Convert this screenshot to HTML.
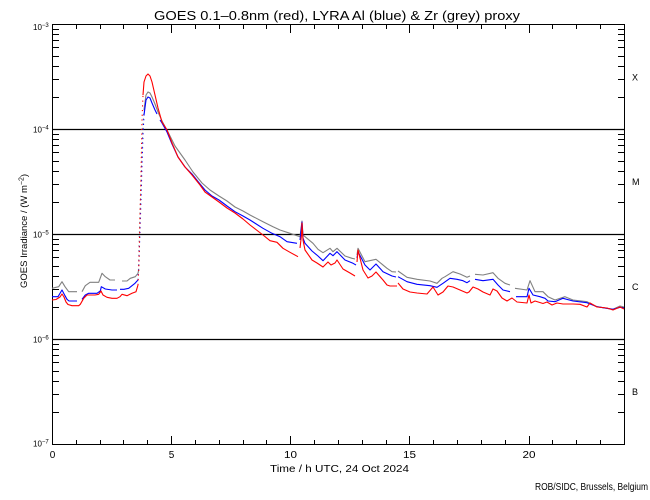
<!DOCTYPE html>
<html><head><meta charset="utf-8"><style>
html,body{margin:0;padding:0;background:#fff;}
svg{display:block;}
text{font-family:"Liberation Sans",sans-serif;fill:#000;}
</style></head><body>
<svg width="650" height="500" viewBox="0 0 650 500" xmlns="http://www.w3.org/2000/svg">
<rect width="650" height="500" fill="#fff"/>
<!-- title -->
<text x="154" y="20" font-size="13" textLength="366" lengthAdjust="spacingAndGlyphs">GOES 0.1–0.8nm (red), LYRA Al (blue) &amp; Zr (grey) proxy</text>

<!-- decade lines -->
<path d="M52 129.5H624M52 234.5H624M52 339.5H624" stroke="#000" stroke-width="1.3" fill="none"/>

<!-- axes box -->
<rect x="52.5" y="24.5" width="572" height="420" fill="none" stroke="#000" stroke-width="1"/>

<!-- left minor ticks -->
<path stroke="#000" stroke-width="1" fill="none" d="
M52 97.5h7M52 79.5h7M52 66.5h7M52 56.5h7M52 47.5h7M52 40.5h7M52 34.5h7M52 29.5h7
M52 202.5h7M52 184.5h7M52 171.5h7M52 161.5h7M52 152.5h7M52 145.5h7M52 139.5h7M52 134.5h7
M52 307.5h7M52 289.5h7M52 276.5h7M52 266.5h7M52 257.5h7M52 250.5h7M52 244.5h7M52 239.5h7
M52 412.5h7M52 394.5h7M52 381.5h7M52 371.5h7M52 362.5h7M52 355.5h7M52 349.5h7M52 344.5h7
"/>
<!-- right minor ticks -->
<path stroke="#000" stroke-width="1" fill="none" d="
M625 97.5h-7M625 79.5h-7M625 66.5h-7M625 56.5h-7M625 47.5h-7M625 40.5h-7M625 34.5h-7M625 29.5h-7
M625 202.5h-7M625 184.5h-7M625 171.5h-7M625 161.5h-7M625 152.5h-7M625 145.5h-7M625 139.5h-7M625 134.5h-7
M625 307.5h-7M625 289.5h-7M625 276.5h-7M625 266.5h-7M625 257.5h-7M625 250.5h-7M625 244.5h-7M625 239.5h-7
M625 412.5h-7M625 394.5h-7M625 381.5h-7M625 371.5h-7M625 362.5h-7M625 355.5h-7M625 349.5h-7M625 344.5h-7
"/>
<!-- bottom ticks -->
<path stroke="#000" stroke-width="1" fill="none" d="
M76.5 444v-4M100.5 444v-4M123.5 444v-4M147.5 444v-4M171.5 444v-8M195.5 444v-4M219.5 444v-4M243.5 444v-4M266.5 444v-4M290.5 444v-8
M314.5 444v-4M338.5 444v-4M362.5 444v-4M386.5 444v-4M409.5 444v-8M433.5 444v-4M457.5 444v-4M481.5 444v-4M505.5 444v-4M529.5 444v-8
M552.5 444v-4M576.5 444v-4M600.5 444v-4
"/>
<!-- top ticks -->
<path stroke="#000" stroke-width="1" fill="none" d="
M76.5 25v4M100.5 25v4M123.5 25v4M147.5 25v4M171.5 25v8M195.5 25v4M219.5 25v4M243.5 25v4M266.5 25v4M290.5 25v8
M314.5 25v4M338.5 25v4M362.5 25v4M386.5 25v4M409.5 25v8M433.5 25v4M457.5 25v4M481.5 25v4M505.5 25v4M529.5 25v8
M552.5 25v4M576.5 25v4M600.5 25v4
"/>

<!-- y tick labels -->
<g font-size="8">
<text x="33" y="30">10<tspan font-size="6" dy="-3">−3</tspan></text>
<text x="33" y="132.5">10<tspan font-size="6" dy="-3">−4</tspan></text>
<text x="33" y="237.5">10<tspan font-size="6" dy="-3">−5</tspan></text>
<text x="33" y="342.5">10<tspan font-size="6" dy="-3">−6</tspan></text>
<text x="33" y="446.5">10<tspan font-size="6" dy="-3">−7</tspan></text>
</g>

<!-- x tick labels -->
<g font-size="10" text-anchor="middle">
<text x="52.5" y="458">0</text>
<text x="171.5" y="458">5</text>
<text x="290.5" y="458" textLength="13" lengthAdjust="spacingAndGlyphs">10</text>
<text x="409.5" y="458" textLength="13" lengthAdjust="spacingAndGlyphs">15</text>
<text x="529" y="458" textLength="13" lengthAdjust="spacingAndGlyphs">20</text>
</g>

<!-- x label -->
<text x="270" y="472" font-size="10.5" textLength="139" lengthAdjust="spacingAndGlyphs">Time / h UTC, 24 Oct 2024</text>
<!-- credit -->
<text x="535" y="490" font-size="10.5" textLength="113" lengthAdjust="spacingAndGlyphs">ROB/SIDC, Brussels, Belgium</text>

<!-- y label -->
<g transform="translate(27,288) rotate(-90)">
<text x="0" y="0" font-size="9.5">GOES Irradiance / (W m<tspan font-size="7" dy="-3.5">−2</tspan><tspan dy="3.5">)</tspan></text>
</g>

<!-- class labels -->
<g font-size="9">
<text x="632" y="80.5">X</text>
<text x="632" y="185">M</text>
<text x="632" y="290">C</text>
<text x="632" y="395">B</text>
</g>

<!-- series -->
<g fill="none" stroke-width="1.1" stroke-linejoin="round">
<g stroke="#808080">
<polyline points="52,288.3 58.7,286.7 62,281.7 65,286.7 68.7,291.7 77,291.7"/>
<polyline points="82,291.7 85.3,285.7 90,282.3 98.7,282.3 102,273.3 105.3,276.7 110,280 115,280"/>
<polyline points="122,281 127,281 130.3,278.3 135.3,276.7 138,273.3 138.7,270"/>
<polyline stroke-dasharray="1.2,3.5" points="138.7,270 139,245 140,215 141,185 142,150 143,125 144,110"/>
<polyline points="144,110 146,95 148,92 150,93 152,97 155,104 158,112 162,121 168,132 175,146 185,160 193,172 202,183 210,190 219,196 227,201 235,207 243,211 250,215 263,221.7 273,226.7 280,230 290,233.3 300,236.7 302,221 303,235 307,238.3 313,243.3 318,249.3 323,252.7 330,248.3 333,251.7 337,248.3 345,256 352,258.3 355,259"/>
<polyline points="357,255 358,248.3 365,261.7 376,259.3 387,268.3 392,271.7 396,272"/>
<polyline points="398,271 407,277.3 417,279.3 430,281 437,283.3 442,278.3 445,276.7 453,271.7 460,274 467,277.3 470,276"/>
<polyline points="475,274.3 483,275 493,272.7 498,278.3 505,283.3 510,285"/>
<polyline points="515,288.3 527,290 530,280.7 535,291.7 543,291.7 548,296.7 555,300 565,296.7 573,300 587,301.7 597,306.7 613,309.3 620,306 624,307"/>
</g>
<g stroke="#0000ff">
<polyline points="52,296.7 58,296.7 62,290 65,295.7 67,299.3 69,301 77,301"/>
<polyline points="82,299.3 85.3,295 88.7,293.3 97,293.3 100.3,291 101.3,286.7 105.3,289 112,290 117,290"/>
<polyline points="120,289.3 124,289.3 128.7,288.3 132,285.7 135,283.3 138,280"/>
<polyline stroke-dasharray="1.2,3.5" points="138,280 139,260 140,230 141,200 142,165 143,135 144,115"/>
<polyline points="144,115 146,100 148,97 150,98 152,103 155,110 157,114"/>
<polyline points="160,120 162,123 167,132 172,144 178,157 185,167 192,174 200,184 205,190 212,196 219,200 227,206 235,211.7 243,216 250,220 263,228.3 272,233.3 280,236.7 287,241.7 297,243.3"/>
<polyline points="300,240 302,222 303,238 305,243.3 312,251 318,256 323,260.7 330,253.3 333,255.7 337,251.7 345,260 353,263.3 356,265"/>
<polyline points="357,258 358,251.7 365,265 370,270 376,264 383,271.7 392,276 396,277"/>
<polyline points="398,276.7 407,281.7 417,284.3 430,285.7 437,287.3 443,283.3 450,278.3 457,279.3 463,280.7 467,282.7 470,280.7"/>
<polyline points="475,279.3 483,280.7 493,279.3 498,285 503,290 510,291.7"/>
<polyline points="516,296.7 527,296.7 529,288.3 533,295 540,296.7 545,298.3 548,301 555,301.7 563,298.3 573,301 587,302.7 597,306.7 613,309.3 620,307.3 624,308"/>
</g>
<g stroke="#ff0000">
<polyline points="52,300 56,299.5 60,297 62,294 64,297 66,302 68,304.5 72,305.7 78.7,305.7 80.3,304.3 83.7,298.3 87,295 95,295 98.7,294.3 101,291 103,295 107,297.3 112,298.3 117,298.3 120,296.7 122,294.3 127,295.7 132,293.3 136,291.7 138,285"/>
<polyline stroke-dasharray="1.2,3.5" points="138,285 138.7,270 139.3,250 140,215 141,175 142,120 143,95"/>
<polyline points="143,95 144,82 146,76 148,74 150,76 152,82 155,95 158,108 162,122 167,130 172,143 178,157 185,167 192,175 200,185 205,192 212,197 219,202 227,208 235,213 243,219 250,225 263,235 270,240.7 277,242.3 283,248.3 290,252.3 298,256.7"/>
<polyline points="300,248 301.5,235 302,223 303,240 305,250 312,260 317,263 323,267 328,262 331,265 335,263 337,260 343,269 350,273 355,276"/>
<polyline points="357,262 358,250 363,270 368,278 372,276 376,272 383,280 387,285 390,286 397,286"/>
<polyline points="398,283 403,289 410,292 417,293 427,294 433,287 438,295 443,292 448,286 453,287 460,290 467,293 469,292 473,287 478,289 483,292 490,295 493,289 497,291 502,298 507,301 512,298 517,302 527,303 529,295 531,303 535,301 543,303.5 547,302 552,305 557,303 563,304 573,304 580,304.3 587,307 590,303 597,307 607,308 613,310 620,307 624,309"/>
</g>
</g>
</svg>
</body></html>
